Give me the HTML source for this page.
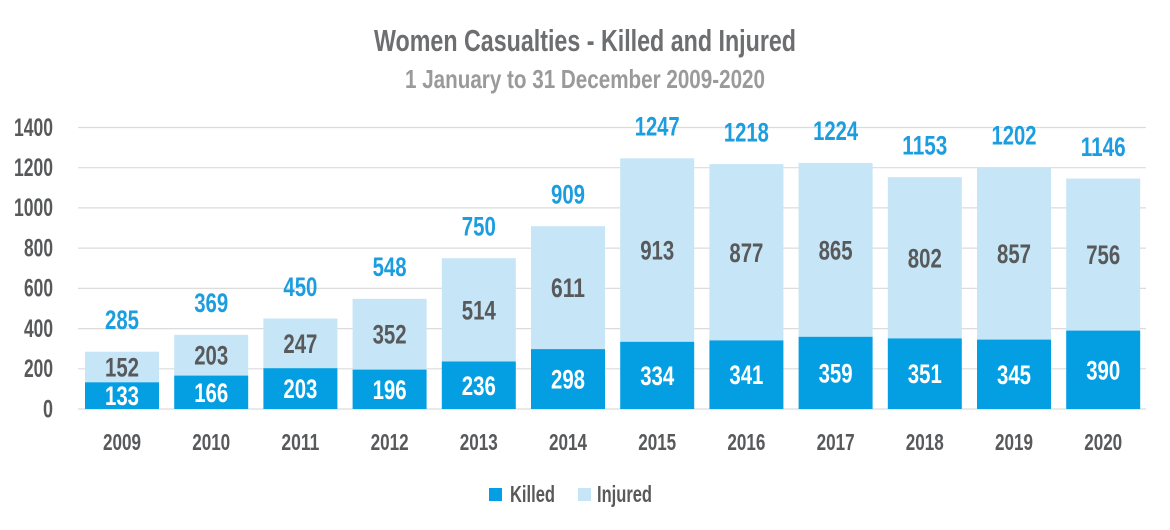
<!DOCTYPE html>
<html><head><meta charset="utf-8"><style>
html,body{margin:0;padding:0;background:#fff;}
svg{display:block;}
text{font-family:"Liberation Sans Narrow","Liberation Sans",sans-serif;font-weight:bold;}
</style></head><body>
<svg width="1170" height="530" viewBox="0 0 1170 530" xmlns="http://www.w3.org/2000/svg">
<text x="585" y="51" text-anchor="middle" font-size="31" fill="#6d6e70" textLength="422" lengthAdjust="spacingAndGlyphs">Women Casualties - Killed and Injured</text>
<text x="585" y="88" text-anchor="middle" font-size="26" fill="#9a9a9a" textLength="360" lengthAdjust="spacingAndGlyphs">1 January to 31 December 2009-2020</text>
<g stroke="#dcdcdc" stroke-width="1.2">
<line x1="78" x2="1146" y1="127.5" y2="127.5"/><line x1="78" x2="1146" y1="167.7" y2="167.7"/><line x1="78" x2="1146" y1="207.9" y2="207.9"/><line x1="78" x2="1146" y1="248.1" y2="248.1"/><line x1="78" x2="1146" y1="288.4" y2="288.4"/><line x1="78" x2="1146" y1="328.6" y2="328.6"/><line x1="78" x2="1146" y1="368.8" y2="368.8"/><line x1="78" x2="1146" y1="409" y2="409"/>
</g>
<g font-size="25" fill="#58595b" text-anchor="end" lengthAdjust="spacingAndGlyphs">
<text x="53" y="136" textLength="39" lengthAdjust="spacingAndGlyphs">1400</text><text x="53" y="176" textLength="39" lengthAdjust="spacingAndGlyphs">1200</text><text x="53" y="216" textLength="39" lengthAdjust="spacingAndGlyphs">1000</text><text x="53" y="256.5" textLength="29" lengthAdjust="spacingAndGlyphs">800</text><text x="53" y="296.5" textLength="29" lengthAdjust="spacingAndGlyphs">600</text><text x="53" y="337" textLength="29" lengthAdjust="spacingAndGlyphs">400</text><text x="53" y="377" textLength="29" lengthAdjust="spacingAndGlyphs">200</text><text x="53" y="417.5" textLength="10" lengthAdjust="spacingAndGlyphs">0</text>
</g>
<g fill="#c6e5f7">
<rect x="85" y="351.7" width="74" height="30.6"/><rect x="174.2" y="334.8" width="74" height="40.8"/><rect x="263.4" y="318.5" width="74" height="49.7"/><rect x="352.6" y="298.8" width="74" height="70.8"/><rect x="441.8" y="258.2" width="74" height="103.3"/><rect x="531" y="226.2" width="74" height="122.9"/><rect x="620.2" y="158.3" width="74" height="183.5"/><rect x="709.4" y="164.1" width="74" height="176.3"/><rect x="798.6" y="162.9" width="74" height="173.9"/><rect x="887.8" y="177.2" width="74" height="161.2"/><rect x="977" y="167.3" width="74" height="172.3"/><rect x="1066.2" y="178.6" width="74" height="152"/>
</g>
<g fill="#049fe3">
<rect x="85" y="382.3" width="74" height="26.7"/><rect x="174.2" y="375.6" width="74" height="33.4"/><rect x="263.4" y="368.2" width="74" height="40.8"/><rect x="352.6" y="369.6" width="74" height="39.4"/><rect x="441.8" y="361.5" width="74" height="47.5"/><rect x="531" y="349.1" width="74" height="59.9"/><rect x="620.2" y="341.8" width="74" height="67.2"/><rect x="709.4" y="340.4" width="74" height="68.6"/><rect x="798.6" y="336.8" width="74" height="72.2"/><rect x="887.8" y="338.4" width="74" height="70.6"/><rect x="977" y="339.6" width="74" height="69.4"/><rect x="1066.2" y="330.6" width="74" height="78.4"/>
</g>
<g font-size="27" fill="#ffffff" text-anchor="middle">
<text x="122" y="405" textLength="34" lengthAdjust="spacingAndGlyphs">133</text><text x="211.2" y="401.8" textLength="34" lengthAdjust="spacingAndGlyphs">166</text><text x="300.4" y="398" textLength="34" lengthAdjust="spacingAndGlyphs">203</text><text x="389.6" y="398.8" textLength="34" lengthAdjust="spacingAndGlyphs">196</text><text x="478.8" y="394.8" textLength="34" lengthAdjust="spacingAndGlyphs">236</text><text x="568" y="388.5" textLength="34" lengthAdjust="spacingAndGlyphs">298</text><text x="657.2" y="384.9" textLength="34" lengthAdjust="spacingAndGlyphs">334</text><text x="746.4" y="384.2" textLength="34" lengthAdjust="spacingAndGlyphs">341</text><text x="835.6" y="382.4" textLength="34" lengthAdjust="spacingAndGlyphs">359</text><text x="924.8" y="383.2" textLength="34" lengthAdjust="spacingAndGlyphs">351</text><text x="1014" y="383.8" textLength="34" lengthAdjust="spacingAndGlyphs">345</text><text x="1103.2" y="379.3" textLength="34" lengthAdjust="spacingAndGlyphs">390</text>
</g>
<g font-size="27" fill="#58595b" text-anchor="middle">
<text x="122" y="376.5" textLength="34" lengthAdjust="spacingAndGlyphs">152</text><text x="211.2" y="364.7" textLength="34" lengthAdjust="spacingAndGlyphs">203</text><text x="300.4" y="352.9" textLength="34" lengthAdjust="spacingAndGlyphs">247</text><text x="389.6" y="343.7" textLength="34" lengthAdjust="spacingAndGlyphs">352</text><text x="478.8" y="319.4" textLength="34" lengthAdjust="spacingAndGlyphs">514</text><text x="568" y="297.2" textLength="34" lengthAdjust="spacingAndGlyphs">611</text><text x="657.2" y="259.5" textLength="34" lengthAdjust="spacingAndGlyphs">913</text><text x="746.4" y="261.8" textLength="34" lengthAdjust="spacingAndGlyphs">877</text><text x="835.6" y="259.4" textLength="34" lengthAdjust="spacingAndGlyphs">865</text><text x="924.8" y="267.3" textLength="34" lengthAdjust="spacingAndGlyphs">802</text><text x="1014" y="263" textLength="34" lengthAdjust="spacingAndGlyphs">857</text><text x="1103.2" y="264.1" textLength="34" lengthAdjust="spacingAndGlyphs">756</text>
</g>
<g font-size="27" fill="#1b9ddf" text-anchor="middle">
<text x="122" y="329" textLength="34" lengthAdjust="spacingAndGlyphs">285</text><text x="211.2" y="312" textLength="34" lengthAdjust="spacingAndGlyphs">369</text><text x="300.4" y="296" textLength="34" lengthAdjust="spacingAndGlyphs">450</text><text x="389.6" y="276" textLength="34" lengthAdjust="spacingAndGlyphs">548</text><text x="478.8" y="235.5" textLength="34" lengthAdjust="spacingAndGlyphs">750</text><text x="568" y="203.5" textLength="34" lengthAdjust="spacingAndGlyphs">909</text><text x="657.2" y="135.5" textLength="45" lengthAdjust="spacingAndGlyphs">1247</text><text x="746.4" y="141.3" textLength="45" lengthAdjust="spacingAndGlyphs">1218</text><text x="835.6" y="140" textLength="45" lengthAdjust="spacingAndGlyphs">1224</text><text x="924.8" y="154.4" textLength="45" lengthAdjust="spacingAndGlyphs">1153</text><text x="1014" y="144.5" textLength="45" lengthAdjust="spacingAndGlyphs">1202</text><text x="1103.2" y="155.8" textLength="45" lengthAdjust="spacingAndGlyphs">1146</text>
</g>
<g font-size="23" fill="#58595b" text-anchor="middle">
<text x="122" y="450" textLength="38" lengthAdjust="spacingAndGlyphs">2009</text><text x="211.2" y="450" textLength="38" lengthAdjust="spacingAndGlyphs">2010</text><text x="300.4" y="450" textLength="38" lengthAdjust="spacingAndGlyphs">2011</text><text x="389.6" y="450" textLength="38" lengthAdjust="spacingAndGlyphs">2012</text><text x="478.8" y="450" textLength="38" lengthAdjust="spacingAndGlyphs">2013</text><text x="568" y="450" textLength="38" lengthAdjust="spacingAndGlyphs">2014</text><text x="657.2" y="450" textLength="38" lengthAdjust="spacingAndGlyphs">2015</text><text x="746.4" y="450" textLength="38" lengthAdjust="spacingAndGlyphs">2016</text><text x="835.6" y="450" textLength="38" lengthAdjust="spacingAndGlyphs">2017</text><text x="924.8" y="450" textLength="38" lengthAdjust="spacingAndGlyphs">2018</text><text x="1014" y="450" textLength="38" lengthAdjust="spacingAndGlyphs">2019</text><text x="1103.2" y="450" textLength="38" lengthAdjust="spacingAndGlyphs">2020</text>
</g>
<rect x="489" y="488" width="13" height="13" fill="#049fe3"/>
<text x="510" y="502" font-size="23" fill="#58595b" textLength="45" lengthAdjust="spacingAndGlyphs">Killed</text>
<rect x="578" y="488" width="13" height="13" fill="#c6e5f7"/>
<text x="597" y="502" font-size="23" fill="#58595b" textLength="55" lengthAdjust="spacingAndGlyphs">Injured</text>
</svg>
</body></html>
